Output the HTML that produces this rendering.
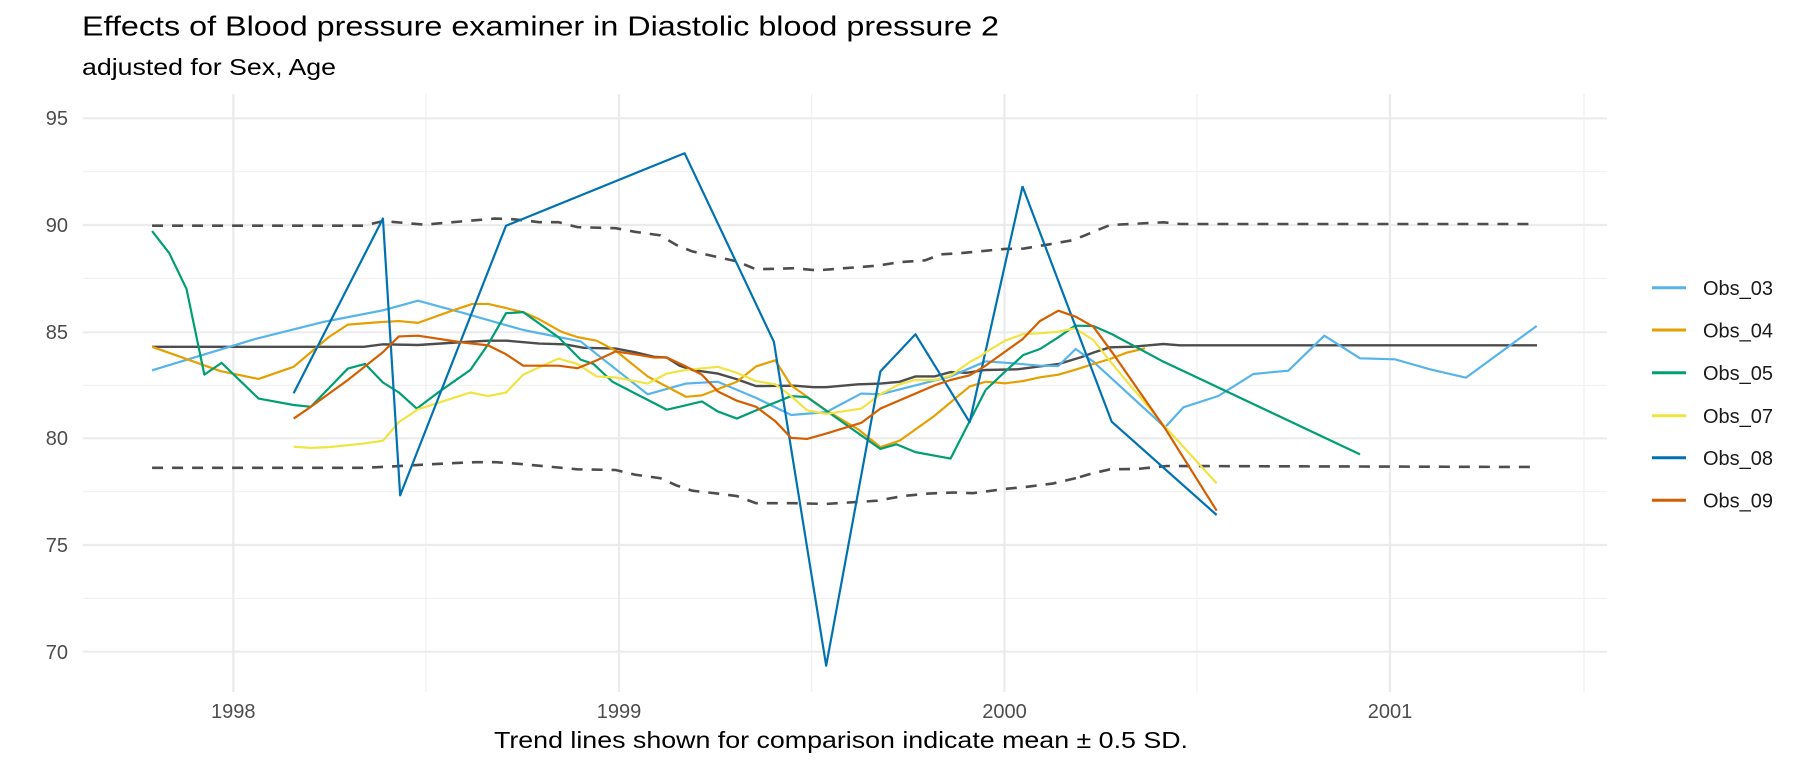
<!DOCTYPE html>
<html><head><meta charset="utf-8"><style>
html,body{margin:0;padding:0;background:#fff;}
svg{display:block;font-family:"Liberation Sans",sans-serif;}
.s{fill:none;stroke-width:2.2;stroke-linejoin:round;vector-effect:non-scaling-stroke;}
.d{fill:none;stroke:#4d4d4d;stroke-width:2.6;stroke-dasharray:11,9;vector-effect:non-scaling-stroke;}
.m{fill:none;stroke:#4d4d4d;stroke-width:2.4;vector-effect:non-scaling-stroke;}
</style></head><body>
<svg width="1806" height="770" viewBox="0 0 1806 770" xmlns="http://www.w3.org/2000/svg">
<rect width="1806" height="770" fill="#fff"/>
<!-- grid minor -->
<g stroke="#f1f1f1" stroke-width="1.2">
<line x1="82.7" x2="1607" y1="171.7" y2="171.7"/><line x1="82.7" x2="1607" y1="278.3" y2="278.3"/>
<line x1="82.7" x2="1607" y1="385.3" y2="385.3"/><line x1="82.7" x2="1607" y1="491.7" y2="491.7"/>
<line x1="82.7" x2="1607" y1="598.3" y2="598.3"/>
<line x1="426" x2="426" y1="94" y2="692"/><line x1="811.7" x2="811.7" y1="94" y2="692"/>
<line x1="1197" x2="1197" y1="94" y2="692"/><line x1="1584" x2="1584" y1="94" y2="692"/>
</g>
<g stroke="#ebebeb" stroke-width="2.2">
<line x1="82.7" x2="1607" y1="118.3" y2="118.3"/><line x1="82.7" x2="1607" y1="225" y2="225"/>
<line x1="82.7" x2="1607" y1="332.3" y2="332.3"/><line x1="82.7" x2="1607" y1="438.3" y2="438.3"/>
<line x1="82.7" x2="1607" y1="545" y2="545"/><line x1="82.7" x2="1607" y1="651.7" y2="651.7"/>
<line x1="233.3" x2="233.3" y1="94" y2="692"/><line x1="619" x2="619" y1="94" y2="692"/>
<line x1="1004.5" x2="1004.5" y1="94" y2="692"/><line x1="1390" x2="1390" y1="94" y2="692"/>
</g>
<!-- axis labels -->
<g fill="#4d4d4d" font-size="20" text-anchor="end">
<text x="68" y="125">95</text><text x="68" y="232">90</text><text x="68" y="339">85</text>
<text x="68" y="445">80</text><text x="68" y="552">75</text><text x="68" y="659">70</text>
</g>
<g fill="#4d4d4d" font-size="20" text-anchor="middle">
<text x="233.3" y="718">1998</text><text x="619" y="718">1999</text><text x="1004.5" y="718">2000</text><text x="1390" y="718">2001</text>
</g>
<!-- zoom7 coordinate group -->
<g transform="translate(80,130) scale(0.63776,0.35714)">
<polyline class="d" points="113,268 445,268 475,255 540,265 650,248 680,250 720,258 750,258 780,272 840,275 870,285 910,295 935,322 960,340 1030,368 1060,390 1120,387 1155,393 1250,380 1285,370 1325,365 1350,348 1380,345 1450,333 1480,332 1520,320 1568,305"/>
<polyline class="d" points="113,946 445,946 510,940 560,935 620,930 650,930 690,935 750,945 780,950 840,952 870,965 910,975 935,995 960,1010 1000,1018 1030,1025 1060,1045 1120,1045 1170,1047 1250,1038 1290,1025 1330,1018 1370,1015 1400,1017 1450,1005 1480,1000 1525,990 1568,972"/>
<polyline class="m" points="113,607 445,607 475,600 530,602 590,595 640,590 670,590 720,598 760,600 790,610 840,612 870,622 900,635 920,637 940,660 960,672 1000,682 1030,698 1060,717 1120,716 1150,720 1170,720 1220,712 1255,710 1285,705 1310,690 1340,690 1365,678 1390,680 1420,672 1470,670 1500,663 1535,655 1568,637"/>
<polyline class="s" stroke="#56B4E9" points="113,673 275,585 380,538 475,505 530,478 600,512 695,560 785,592 890,740 950,710 1000,705 1060,750 1115,798 1170,790 1225,738 1255,740 1365,690 1420,648"/>
<polyline class="s" stroke="#E69F00" points="113,607 165,640 220,675 280,697 335,663 390,580 420,545 470,538 500,535 530,540 580,508 615,487 640,487 695,510 720,530 755,565 780,580 810,590 840,618 890,690 950,747 975,743 1030,705 1060,662 1090,645 1115,715 1170,785 1220,838 1255,888 1285,870 1340,800 1395,718 1420,705"/>
<polyline class="s" stroke="#009E73" points="113,283 140,345 167,445 195,685 222,652 280,752 335,770 362,775 420,668 447,655 475,707 500,735 528,780 560,737 612,672 640,600 668,513 695,510 750,580 785,643 805,655 835,705 920,783 945,773 975,760 1000,788 1030,808 1060,785 1115,745 1140,748 1255,893 1280,880 1310,902 1365,920 1420,728"/>
<polyline class="s" stroke="#F0E442" points="335,887 362,890 390,888 445,878 475,870 500,818 530,782 560,765 612,735 640,745 668,735 695,685 750,640 780,655 810,690 840,693 890,710 920,682 950,672 1000,663 1030,680 1060,703 1090,712 1115,745 1140,785 1170,795 1225,780 1255,740 1285,712 1310,700 1340,700 1365,688 1395,650"/>
<polyline class="s" stroke="#0072B2" points="335,737 475,248 502,1023 668,268 948,65 1088,593 1170,1500 1255,676 1310,572 1395,818 1478,157"/>
<polyline class="s" stroke="#D55E00" points="335,808 362,775 420,700 475,622 500,578 530,576 600,595 640,603 668,628 695,660 750,660 780,667 810,645 840,620 870,628 900,637 920,637 950,662 975,685 1000,732 1030,758 1060,775 1090,815 1115,862 1140,865 1170,850 1225,820 1255,780 1285,757 1310,738 1340,715 1365,700 1395,687 1420,660"/>
</g>
<!-- zoom6 coordinate group -->
<g transform="translate(980,170) scale(0.33333)">
<polyline class="d" points="300,202 305,200 390,165 550,157 600,162 1320,162 1670,162"/>
<polyline class="d" points="300,921 330,912 390,898 470,897 560,888 1320,890 1670,891"/>
<polyline class="m" points="300,563 340,548 390,532 460,530 550,522 600,526 1671,526"/>
<polyline class="s" stroke="#56B4E9" points="16.8,574 100,580 180,587 235,588 287,537 340,575 555,772 610,712 715,678 820,612 925,602 1033,497 1140,565 1245,568 1350,598 1458,623 1670,468"/>
<polyline class="s" stroke="#E69F00" points="16.8,635 75,640 130,633 180,622 235,614 290,598 340,582 390,567 440,548 495,535"/>
<polyline class="s" stroke="#009E73" points="16.8,660 75,605 130,555 180,537 235,502 285,467 340,468 395,492 550,575 610,603 1140,853"/>
<polyline class="s" stroke="#F0E442" points="-31,576 0,560 20,545 75,512 130,492 180,490 235,485 285,475 340,510 395,580 555,770 710,940"/>
<polyline class="s" stroke="#0072B2" points="127,48 395,755 710,1035"/>
<polyline class="s" stroke="#D55E00" points="16.8,587 127,508 180,453 235,422 287,440 340,470 395,545 555,775 710,1022"/>
</g>
<!-- legend -->
<g stroke-width="3">
<line x1="1652" x2="1686" y1="287.7" y2="287.7" stroke="#56B4E9"/>
<line x1="1652" x2="1686" y1="330" y2="330" stroke="#E69F00"/>
<line x1="1652" x2="1686" y1="372.7" y2="372.7" stroke="#009E73"/>
<line x1="1652" x2="1686" y1="415.7" y2="415.7" stroke="#F0E442"/>
<line x1="1652" x2="1686" y1="457.7" y2="457.7" stroke="#0072B2"/>
<line x1="1652" x2="1686" y1="500.3" y2="500.3" stroke="#D55E00"/>
</g>
<g font-size="20" fill="#1a1a1a">
<text x="1703" y="295">Obs_03</text><text x="1703" y="337.3">Obs_04</text><text x="1703" y="380">Obs_05</text>
<text x="1703" y="423">Obs_07</text><text x="1703" y="465">Obs_08</text><text x="1703" y="507.6">Obs_09</text>
</g>
<!-- titles -->
<text x="82" y="35.5" font-size="28" fill="#000" textLength="917" lengthAdjust="spacingAndGlyphs">Effects of Blood pressure examiner in Diastolic blood pressure 2</text>
<text x="82" y="75" font-size="23" fill="#000" textLength="254" lengthAdjust="spacingAndGlyphs">adjusted for Sex, Age</text>
<text x="494" y="748" font-size="23" fill="#000" textLength="694" lengthAdjust="spacingAndGlyphs">Trend lines shown for comparison indicate mean ± 0.5 SD.</text>
</svg>
</body></html>
